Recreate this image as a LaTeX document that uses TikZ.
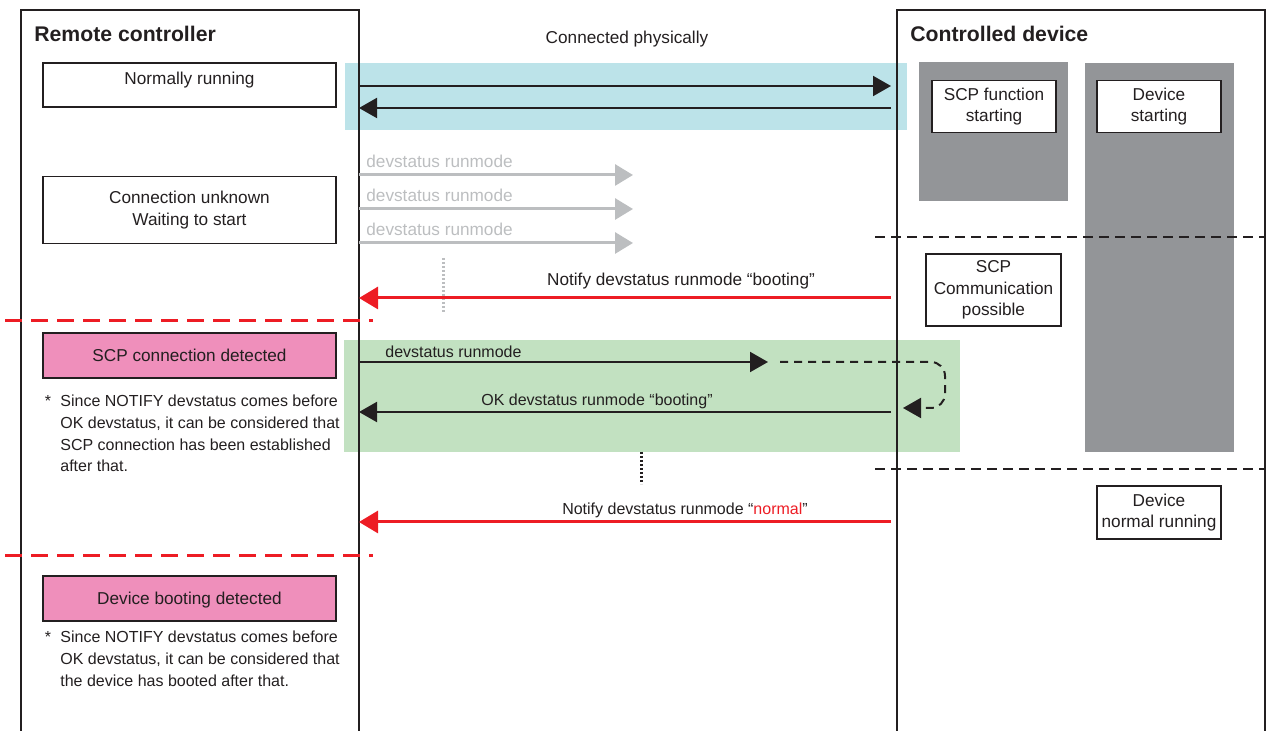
\documentclass[tikz,border=0pt]{standalone}
\usepackage{fontspec}
\setmainfont{Liberation Sans}
\usetikzlibrary{arrows.meta}
\definecolor{ink}{RGB}{35,31,32}
\definecolor{scpred}{RGB}{237,28,36}
\definecolor{faint}{RGB}{188,190,192}
\definecolor{busygray}{RGB}{147,149,152}
\definecolor{cyanzone}{RGB}{188,227,233}
\definecolor{greenzone}{RGB}{194,225,193}
\definecolor{detect}{RGB}{239,143,187}
\tikzset{
  every node/.style={text=ink, font=\fontsize{8.6}{10.75}\selectfont},
  small/.style={font=\fontsize{8}{10.8}\selectfont},
  title/.style={font=\fontsize{10.6}{12}\selectfont\bfseries, inner sep=0pt},
  lane/.style={draw=ink, line width=1pt},
  statebox/.style={draw=ink, line width=0.85pt, fill=white, minimum width=146.5pt, align=center, inner sep=0pt},
  note/.style={small, align=left, inner sep=0pt},
  msg/.style={draw=ink, line width=1pt, -{Triangle[length=9pt,width=10pt]}},
  redmsg/.style={draw=scpred, line width=1.5pt, -{Triangle[length=9.5pt,width=11pt]}},
  graymsg/.style={draw=faint, line width=1.5pt, -{Triangle[length=9pt,width=10.5pt]}},
  loopback/.style={draw=ink, line width=1pt, dash pattern=on 4pt off 3pt, rounded corners=7pt, -{Triangle[length=9pt,width=10pt]}},
  phasered/.style={draw=scpred, line width=1.5pt, dash pattern=on 8.5pt off 4.5pt},
  phaseink/.style={draw=ink, line width=1pt, dash pattern=on 5pt off 3pt},
  waitgray/.style={draw=faint, line width=1.5pt, dash pattern=on 1.2pt off 0.8pt},
  waitink/.style={draw=ink, line width=1.5pt, dash pattern=on 1.2pt off 0.8pt}
}
\begin{document}
\begin{tikzpicture}[x=0.5pt,y=-0.5pt]
\useasboundingbox (0,0) rectangle (1270,731);
% shaded zones
\fill[cyanzone] (345,63) rectangle (907,130);
\fill[greenzone] (344,340) rectangle (960,452);
\fill[busygray] (919,62) rectangle (1068,201);
\fill[busygray] (1085,63) rectangle (1234,452);
% the two sides
\draw[lane] (21,731) -- (21,10) -- (359,10) -- (359,731);
\draw[lane] (897,731) -- (897,10) -- (1265,10) -- (1265,731);
\node[title, anchor=base west] (rctitle) at (34,42) {Remote controller};
\node[title, anchor=base west] (cdtitle) at (910,42) {Controlled device};

% remote controller states
\node[statebox, minimum height=22pt] (norm) at (189.5,85) {};
\node[anchor=base] (normtext) at (189.5,85) {Normally running};
\node[statebox, minimum height=33.5pt] (unknown) at (189.5,210) {Connection unknown\\Waiting to start};
\node[statebox, fill=detect, minimum height=22.5pt] (scpdet) at (189.5,355.5) {SCP connection detected};
\node[statebox, fill=detect, minimum height=22.5pt, text depth=0pt] (bootdet) at (189.5,598.5) {Device booting detected};
\node[small, anchor=base, inner sep=0pt] (star1) at (48,407) {*};
\node[note, anchor=north west] (note1) at (60,395) {Since NOTIFY devstatus comes before\\OK devstatus, it can be considered that\\SCP connection has been established\\after that.};
\node[small, anchor=base, inner sep=0pt] (star2) at (48,643) {*};
\node[note, anchor=north west] (note2) at (60,631) {Since NOTIFY devstatus comes before\\OK devstatus, it can be considered that\\the device has booted after that.};

% controlled device states
\node[statebox, minimum width=62pt, minimum height=26pt] (scpfn) at (994,106.5) {SCP function\\starting};
\node[statebox, minimum width=62pt, minimum height=26pt] (devstart) at (1159,106.5) {Device\\starting};
\node[statebox, minimum width=67.5pt, minimum height=36pt] (scpcomm) at (993.5,290) {SCP\\Communication\\possible};
\node[statebox, minimum width=62pt, minimum height=26.5pt] (devnorm) at (1159,512.5) {Device\\normal running};

% phase borders
\draw[phasered] (5,321) -- (373,321);
\draw[phasered] (5,556) -- (373,556);
\draw[phaseink] (875,237) -- (1266,237);
\draw[phaseink] (875,469) -- (1266,469);

% connected physically
\node[anchor=base] (phys) at (627,44) {Connected physically};
\coordinate (rc1) at (359,86);  \coordinate (cd1) at (891,86);
\coordinate (rc2) at (359,108); \coordinate (cd2) at (891,108);
\draw[msg] (rc1) -- (cd1);
\draw[msg] (cd2) -- (rc2);

% requests that get no answer
\foreach \y/\n in {175/a,209/b,243/c} {
  \coordinate (ask\n) at (359,\y);
  \coordinate (lost\n) at (633,\y);
  \draw[graymsg] (ask\n) -- (lost\n);
  \node[anchor=base west, inner sep=0pt, text=faint] (asklbl\n) at (366,\y-7) {devstatus runmode};
}
\draw[waitgray] (443,258) -- (443,313);

% notify booting
\coordinate (rc3) at (359,298); \coordinate (cd3) at (891,298);
\draw[redmsg] (cd3) -- (rc3);
\node[anchor=base] (bootlbl) at (681,286) {Notify devstatus runmode \textquotedblleft booting\textquotedblright};

% query and answer
\coordinate (rc4) at (359,362); \coordinate (mid4) at (768,362);
\draw[msg] (rc4) -- (mid4);
\node[small, anchor=base west, inner sep=0pt] (querylbl) at (385,358) {devstatus runmode};
\coordinate (lp1) at (780,362); \coordinate (lp2) at (903,408);
\draw[loopback] (lp1) -- (945,362) -- (945,408) -- (lp2);
\coordinate (rc5) at (359,412); \coordinate (cd5) at (891,412);
\draw[msg] (cd5) -- (rc5);
\node[small, anchor=base] (oklbl) at (597,406) {OK devstatus runmode \textquotedblleft booting\textquotedblright};
\draw[waitink] (641,452) -- (641,484);

% notify normal
\coordinate (rc6) at (359,522); \coordinate (cd6) at (891,522);
\draw[redmsg] (cd6) -- (rc6);
\node[small, anchor=base] (normlbl) at (685,515) {Notify devstatus runmode \textquotedblleft\textcolor{scpred}{normal}\textquotedblright};
\end{tikzpicture}
\end{document}
